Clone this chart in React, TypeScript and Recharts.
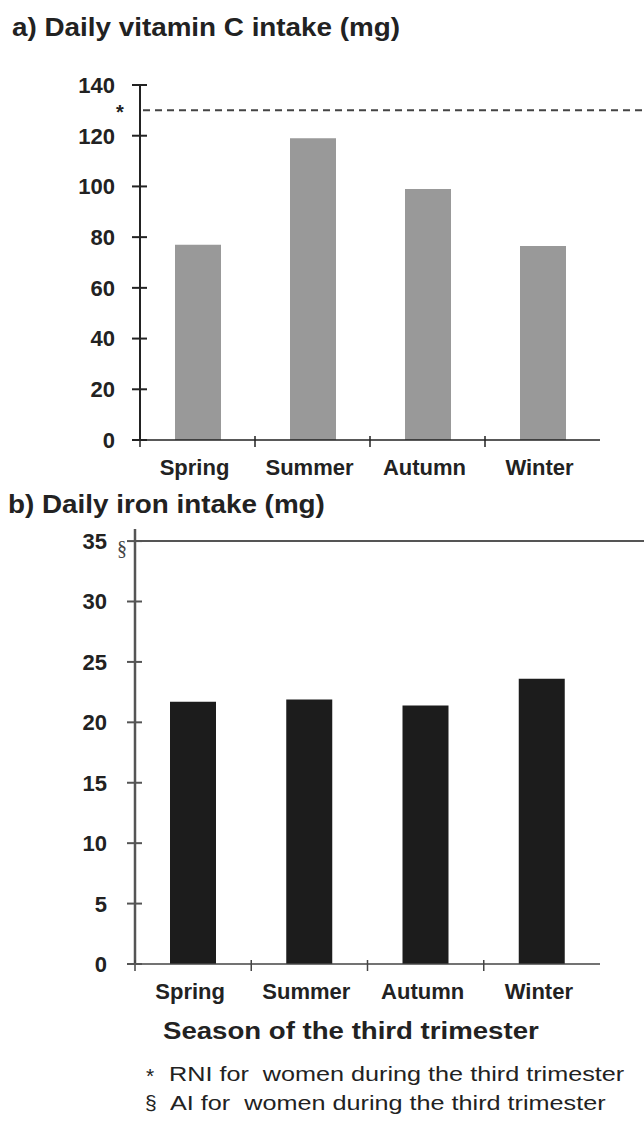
import { BarChart, Bar, XAxis, YAxis, ReferenceLine } from "recharts";

const seasons = ["Spring", "Summer", "Autumn", "Winter"];
const vitaminC = [77, 119, 99, 76.5];
const iron = [21.7, 21.9, 21.4, 23.6];
const vitCTicks = [0, 20, 40, 60, 80, 100, 120, 140];
const ironTicks = [0, 5, 10, 15, 20, 25, 30, 35];
const rniVitC = 130;
const aiIron = 35;

const vitCData = seasons.map((s, i) => ({ season: s, value: vitaminC[i] }));
const ironData = seasons.map((s, i) => ({ season: s, value: iron[i] }));

const FONT = "'Liberation Sans', Arial, Helvetica, sans-serif";
const INK = "#222";
const W = 644;

// axis positions (svg coordinates) used by custom ticks
const TOP_AXIS_X = 140;
const TOP_AXIS_Y = 440;
const TOP_BAND = 115;
const BOT_AXIS_X = 135;
const BOT_AXIS_Y = 464;
const BOT_BAND = 116.25;

function makeYTick(axisX: number, gap: number, color: string) {
  return (props: any) => {
    const { y, payload } = props;
    return (
      <g>
        <line x1={axisX - 8} x2={axisX + 7} y1={y} y2={y} stroke={color} strokeWidth={2} />
        <text
          x={axisX - gap}
          y={y}
          dy="0.36em"
          textAnchor="end"
          fontSize={22}
          fontWeight="bold"
          fill={INK}
          fontFamily={FONT}
        >
          {payload.value}
        </text>
      </g>
    );
  };
}

function makeXTick(axisY: number, band: number, color: string) {
  return (props: any) => {
    const { x, payload } = props;
    const left = x - band / 2;
    return (
      <g>
        <line x1={left} x2={left} y1={axisY - 4} y2={axisY + 7} stroke={color} strokeWidth={1.5} />
        <text
          x={x - 3}
          y={axisY + 35}
          textAnchor="middle"
          fontSize={22}
          fontWeight="bold"
          fill={INK}
          fontFamily={FONT}
        >
          {payload.value}
        </text>
      </g>
    );
  };
}

const textStyle = (extra: any) => ({
  position: "absolute" as const,
  fontFamily: FONT,
  color: INK,
  whiteSpace: "pre" as const,
  transformOrigin: "left top",
  lineHeight: 1,
  ...extra,
});

export default function App() {
  return (
    <div style={{ position: "absolute", left: 0, top: 0, width: W, height: 1123, background: "#fff" }}>
      <div style={textStyle({ left: 12, top: 14, fontSize: 26, fontWeight: "bold", transform: "scaleX(1.07)" })}>
        a) Daily vitamin C intake (mg)
      </div>

      <div style={{ position: "absolute", left: 0, top: 0 }}>
        <BarChart
          width={W}
          height={490}
          data={vitCData}
          margin={{ top: 85, right: 44, left: 0, bottom: 10 }}
          barCategoryGap="30%"
        >
          <XAxis
            dataKey="season"
            height={40}
            tickLine={false}
            axisLine={{ stroke: INK, strokeWidth: 1.5 }}
            tick={makeXTick(TOP_AXIS_Y, TOP_BAND, INK)}
            interval={0}
          />
          <YAxis
            width={TOP_AXIS_X}
            domain={[0, 140]}
            ticks={vitCTicks}
            tickLine={false}
            axisLine={{ stroke: INK, strokeWidth: 2 }}
            tick={makeYTick(TOP_AXIS_X, 25, INK)}
            interval={0}
          />
          <ReferenceLine
            y={rniVitC}
            shape={(p: any) => (
              <g>
                <line
                  x1={p.x1 + 3}
                  x2={W}
                  y1={p.y1}
                  y2={p.y1}
                  stroke="#444"
                  strokeWidth={2}
                  strokeDasharray="7 5"
                />
                <text x={120} y={p.y1} dy={8.5} textAnchor="middle" fontSize={20} fontWeight="bold" fill={INK} fontFamily={FONT}>
                  *
                </text>
              </g>
            )}
          />
          <Bar dataKey="value" fill="#999999" barSize={46} isAnimationActive={false} />
        </BarChart>
      </div>

      <div style={textStyle({ left: 8, top: 491, fontSize: 26, fontWeight: "bold", transform: "scaleX(1.07)" })}>
        b) Daily iron intake (mg)
      </div>

      <div style={{ position: "absolute", left: 0, top: 500 }}>
        <BarChart
          width={W}
          height={510}
          data={ironData}
          margin={{ top: 29, right: 44, left: 0, bottom: 6 }}
          barCategoryGap="30%"
        >
          <XAxis
            dataKey="season"
            height={40}
            tickLine={false}
            axisLine={{ stroke: "#444", strokeWidth: 1.5 }}
            tick={makeXTick(BOT_AXIS_Y, BOT_BAND, "#444")}
            interval={0}
          />
          <YAxis
            width={BOT_AXIS_X}
            domain={[0, 36]}
            ticks={ironTicks}
            tickLine={false}
            axisLine={{ stroke: "#555", strokeWidth: 2.5 }}
            tick={makeYTick(BOT_AXIS_X, 28, "#555")}
            interval={0}
          />
          <ReferenceLine
            y={aiIron}
            shape={(p: any) => (
              <g>
                <line x1={p.x1} x2={W} y1={p.y1} y2={p.y1} stroke="#555" strokeWidth={2} />
                <text x={122} y={p.y1} dy="0.7em" textAnchor="middle" fontSize={20} fill="#444" fontFamily="'Liberation Serif', serif">
                  §
                </text>
              </g>
            )}
          />
          <Bar dataKey="value" fill="#1c1c1c" barSize={46} isAnimationActive={false} />
        </BarChart>
      </div>

      <div style={textStyle({ left: 163, top: 1020, fontSize: 23, fontWeight: "bold", transform: "scaleX(1.2)" })}>
        Season of the third trimester
      </div>
      <div style={textStyle({ left: 146, top: 1065, fontSize: 21 })}>*</div>
      <div style={textStyle({ left: 169, top: 1063, fontSize: 21, transform: "scaleX(1.2)" })}>
        {"RNI for  women during the third trimester"}
      </div>
      <div style={textStyle({ left: 145, top: 1092, fontSize: 21 })}>§</div>
      <div style={textStyle({ left: 170, top: 1092, fontSize: 21, transform: "scaleX(1.2)" })}>
        {"AI for  women during the third trimester"}
      </div>
    </div>
  );
}
